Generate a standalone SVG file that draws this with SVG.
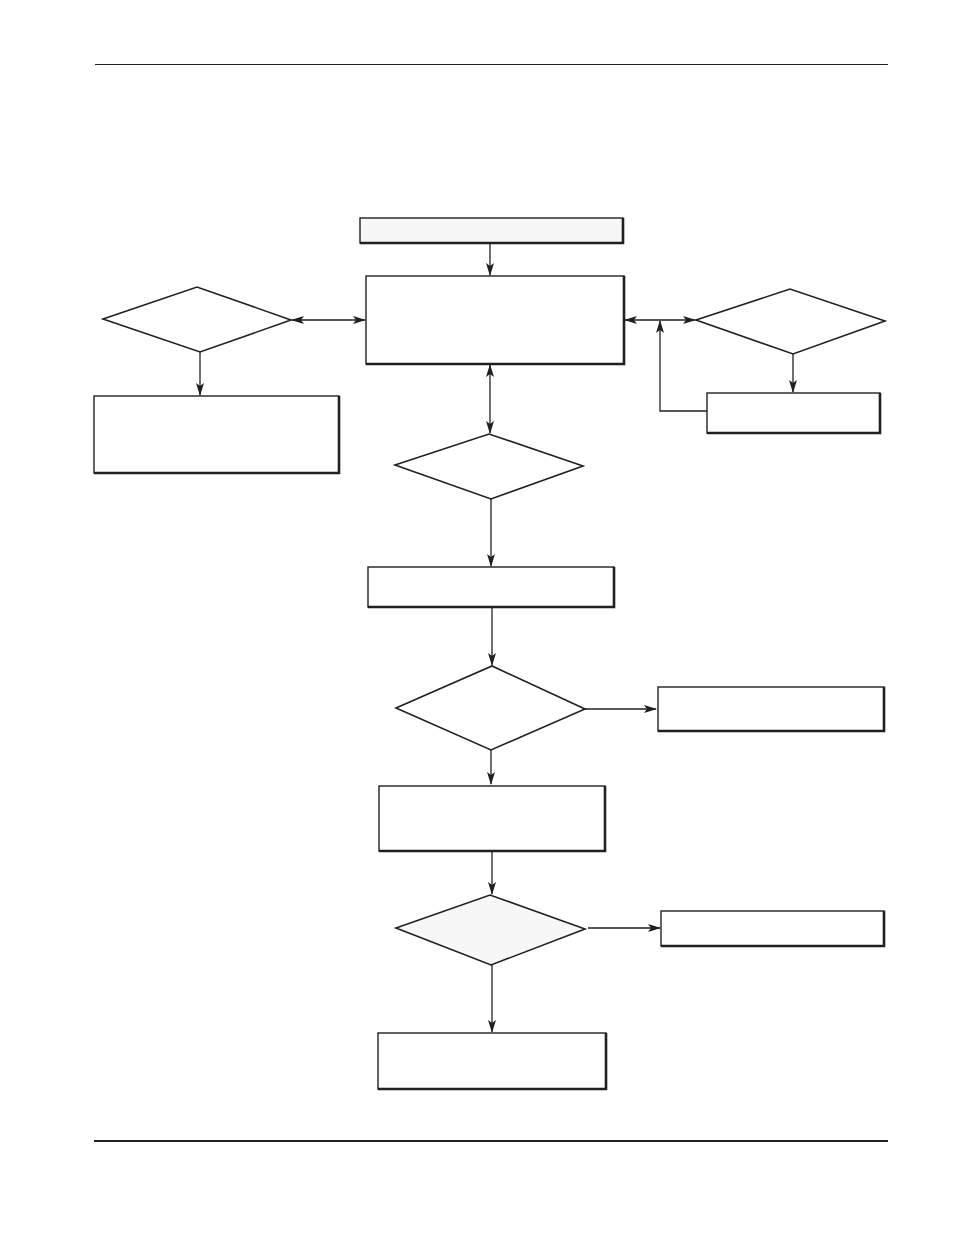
<svg xmlns="http://www.w3.org/2000/svg" width="954" height="1235" viewBox="0 0 954 1235">
<defs>
<style>
.box{fill:#fff;stroke:#231f20;stroke-width:1.4}
.sh{fill:none;stroke:#231f20;stroke-width:2.6}
.dia{fill:#fff;stroke:#231f20;stroke-width:1.6;stroke-linejoin:miter}
.ln{fill:none;stroke:#231f20;stroke-width:1.3}
.box.grey,.dia.grey{fill:#f7f7f7}
</style>
<marker id="a" markerWidth="13" markerHeight="8" refX="12" refY="4" orient="auto-start-reverse" markerUnits="userSpaceOnUse">
<path d="M0,0 L13,4 L0,8 L3,4 z" fill="#231f20"/>
</marker>
</defs>
<rect width="954" height="1235" fill="#fff"/>
<line x1="95" y1="64.5" x2="888" y2="64.5" stroke="#231f20" stroke-width="1.2"/>
<line x1="94" y1="1141" x2="888" y2="1141" stroke="#231f20" stroke-width="2.2"/>

<g id="connectors">
<line class="ln" x1="490" y1="243" x2="490" y2="275" marker-end="url(#a)"/>
<line class="ln" x1="292" y1="320" x2="365" y2="320" marker-start="url(#a)" marker-end="url(#a)"/>
<line class="ln" x1="200" y1="352" x2="200" y2="395" marker-end="url(#a)"/>
<line class="ln" x1="625" y1="320" x2="695" y2="320" marker-start="url(#a)" marker-end="url(#a)"/>
<line class="ln" x1="793" y1="354" x2="793" y2="392" marker-end="url(#a)"/>
<polyline class="ln" points="707,411 660,411 660,321" marker-end="url(#a)"/>
<line class="ln" x1="490" y1="365" x2="490" y2="433" marker-start="url(#a)" marker-end="url(#a)"/>
<line class="ln" x1="491" y1="499" x2="491" y2="566" marker-end="url(#a)"/>
<line class="ln" x1="492" y1="607" x2="492" y2="665" marker-end="url(#a)"/>
<line class="ln" x1="585" y1="709" x2="656" y2="709" marker-end="url(#a)"/>
<line class="ln" x1="491" y1="750" x2="491" y2="784" marker-end="url(#a)"/>
<line class="ln" x1="492" y1="852" x2="492" y2="894" marker-end="url(#a)"/>
<line class="ln" x1="588" y1="928" x2="660" y2="928" marker-end="url(#a)"/>
<line class="ln" x1="492" y1="965" x2="492" y2="1032" marker-end="url(#a)"/>
</g>

<g id="start">
<rect class="box grey" x="360" y="218" width="263" height="25"/>
<polyline class="sh" points="623,218 623,243 360,243"/>
</g>
<g id="main">
<rect class="box" x="366" y="276" width="258" height="88"/>
<polyline class="sh" points="624,276 624,364 366,364"/>
</g>
<g id="dLeft">
<polygon class="dia" points="103,319 197,287 291,320 200,352"/>
</g>
<g id="boxLeft">
<rect class="box" x="94" y="396" width="245" height="77"/>
<polyline class="sh" points="339,396 339,473 94,473"/>
</g>
<g id="dRight">
<polygon class="dia" points="696,320 790,289 885,321 793,354"/>
</g>
<g id="boxRight">
<rect class="box" x="707" y="393" width="173" height="40"/>
<polyline class="sh" points="880,393 880,433 707,433"/>
</g>
<g id="d1">
<polygon class="dia" points="395,465 489,434 583,466 491,499"/>
</g>
<g id="box2">
<rect class="box" x="368" y="567" width="246" height="40"/>
<polyline class="sh" points="614,567 614,607 368,607"/>
</g>
<g id="d2">
<polygon class="dia" points="396,708 492,666 585,709 491,750"/>
</g>
<g id="box2r">
<rect class="box" x="658" y="687" width="226" height="44"/>
<polyline class="sh" points="884,687 884,731 658,731"/>
</g>
<g id="box3">
<rect class="box" x="379" y="786" width="226" height="65"/>
<polyline class="sh" points="605,786 605,851 379,851"/>
</g>
<g id="d3">
<polygon class="dia grey" points="396,928 490,895 585,929 491,965"/>
</g>
<g id="box3r">
<rect class="box" x="661" y="911" width="223" height="35"/>
<polyline class="sh" points="884,911 884,946 661,946"/>
</g>
<g id="boxEnd">
<rect class="box" x="378" y="1033" width="228" height="56"/>
<polyline class="sh" points="606,1033 606,1089 378,1089"/>
</g>
</svg>
